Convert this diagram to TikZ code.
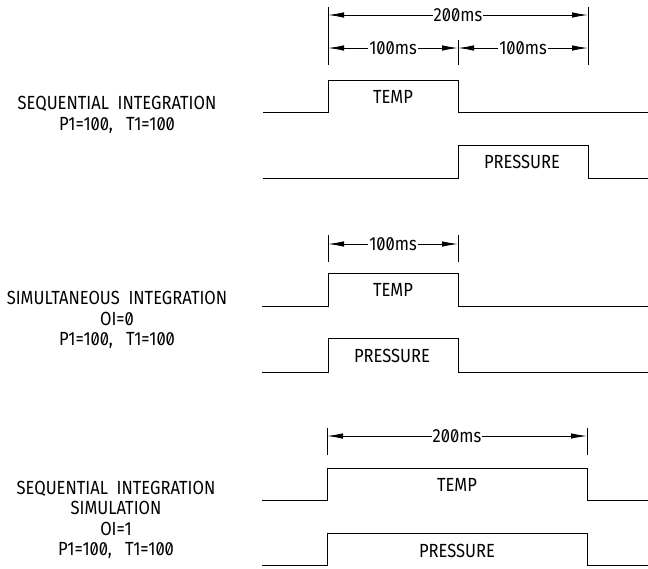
\documentclass[tikz,border=0pt]{standalone}
\usepackage{fontspec}
\setmainfont[FakeStretch=0.87,Numbers=SlashedZero]{Fira Sans}
\usetikzlibrary{arrows.meta}
\begin{document}
\begin{tikzpicture}[x=1pt,y=-1pt,
  wave/.style={line width=1pt,line join=miter},
  ext/.style={line width=0.9pt},
  dim/.style={line width=0.9pt,{Latex[length=16pt,width=5.5pt]}-{Latex[length=16pt,width=5.5pt]}},
  dimtext/.style={fill=white,inner sep=1pt,font=\fontsize{19}{19}\selectfont},
  sig/.style={font=\fontsize{19}{19}\selectfont},
  lab/.style={align=center,font=\fontsize{19}{20.5}\selectfont}]
\useasboundingbox (0,0) rectangle (648,568);

% ---------- section 1: sequential integration ----------
\coordinate (e1a) at (328,7);  \coordinate (e1ab) at (328,65);
\coordinate (e1b) at (458,40); \coordinate (e1bb) at (458,65);
\coordinate (e1c) at (588,7);  \coordinate (e1cb) at (588,65);
\draw[ext] (e1a) -- (e1ab);
\draw[ext] (e1b) -- (e1bb);
\draw[ext] (e1c) -- (e1cb);
\coordinate (d1l) at (328,15); \coordinate (d1r) at (588,15);
\draw[dim] (d1l) -- (d1r) node[midway,dimtext] (t1) {200ms};
\coordinate (d2l) at (328,48); \coordinate (d2m) at (458,48); \coordinate (d2r) at (588,48);
\draw[dim] (d2l) -- (d2m) node[midway,dimtext] (t2) {100ms};
\draw[dim] (d2m) -- (d2r) node[midway,dimtext] (t3) {100ms};
\draw[wave] (263,112) -- (328,112) -- (328,80) -- (458,80) -- (458,112) -- (648,112);
\draw[wave] (263,178) -- (458,178) -- (458,145) -- (588,145) -- (588,178) -- (648,178);
\node[sig] (temp1) at (393,97) {TEMP};
\node[sig] (pres1) at (522,162) {PRESSURE};
\node[lab] (lab1) at (117,115) {SEQUENTIAL\ \ INTEGRATION\\P1=100,\ \ \ T1=100};

% ---------- section 2: simultaneous integration ----------
\coordinate (e2a) at (328,235); \coordinate (e2ab) at (328,262);
\coordinate (e2b) at (458,235); \coordinate (e2bb) at (458,262);
\draw[ext] (e2a) -- (e2ab);
\draw[ext] (e2b) -- (e2bb);
\coordinate (d3l) at (328,244); \coordinate (d3r) at (458,244);
\draw[dim] (d3l) -- (d3r) node[midway,dimtext] (t4) {100ms};
\draw[wave] (262,306) -- (328,306) -- (328,273) -- (458,273) -- (458,306) -- (648,306);
\draw[wave] (262,372) -- (328,372) -- (328,338) -- (458,338) -- (458,372) -- (648,372);
\node[sig] (temp2) at (393,290) {TEMP};
\node[sig] (pres2) at (392,356) {PRESSURE};
\node[lab] (lab2) at (117,320) {SIMULTANEOUS\ \ INTEGRATION\\OI=0\\P1=100,\ \ \ T1=100};

% ---------- section 3: sequential integration simulation ----------
\coordinate (e3a) at (327,428); \coordinate (e3ab) at (327,455);
\coordinate (e3b) at (587,428); \coordinate (e3bb) at (587,455);
\draw[ext] (e3a) -- (e3ab);
\draw[ext] (e3b) -- (e3bb);
\coordinate (d4l) at (327,436); \coordinate (d4r) at (587,436);
\draw[dim] (d4l) -- (d4r) node[midway,dimtext] (t5) {200ms};
\draw[wave] (262,500) -- (327,500) -- (327,468) -- (587,468) -- (587,500) -- (648,500);
\draw[wave] (262,565) -- (327,565) -- (327,533) -- (587,533) -- (587,565) -- (648,565);
\node[sig] (temp3) at (457,485) {TEMP};
\node[sig] (pres3) at (457,551) {PRESSURE};
\node[lab] (lab3) at (116,520) {SEQUENTIAL\ \ INTEGRATION\\SIMULATION\\OI=1\\P1=100,\ \ \ T1=100};
\end{tikzpicture}
\end{document}
